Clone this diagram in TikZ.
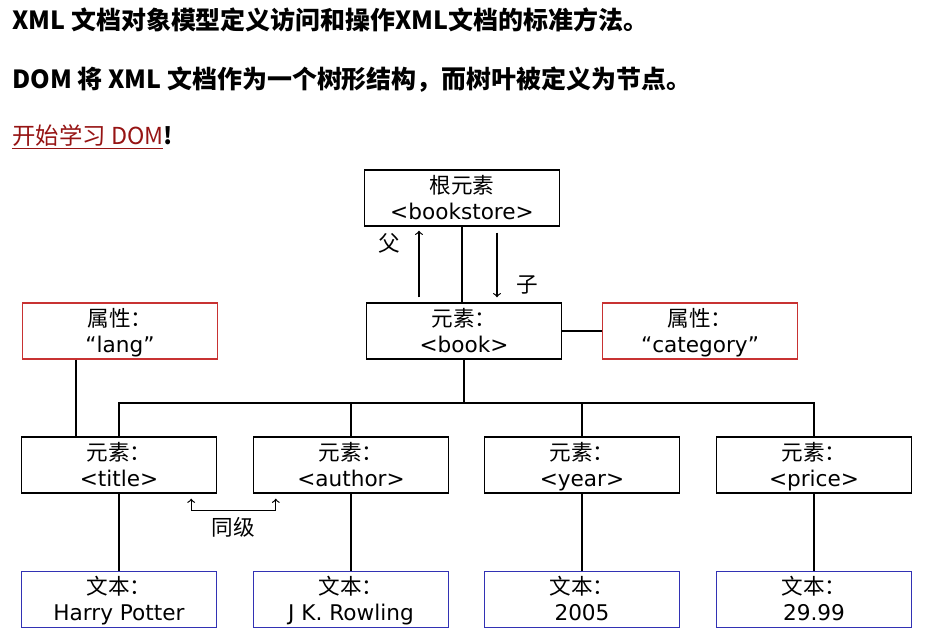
\documentclass[tikz,border=0pt]{standalone}
\usepackage{fontspec}
\setmainfont{DejaVu Sans}
\newfontfamily\cjk{Noto Sans CJK SC}
\usetikzlibrary{positioning}
\definecolor{attrRed}{RGB}{200,50,50}
\definecolor{textBlue}{RGB}{50,50,180}
\definecolor{linkRed}{RGB}{150,20,20}
\newcommand{\topStrut}{\rule{0pt}{0.89\baselineskip}}
\newcommand{\botStrut}{\rule[-0.25\baselineskip]{0pt}{0.25\baselineskip}}

\begin{document}
\begin{tikzpicture}[
    x=0.02cm, y=-0.02cm, every node/.style={font=\fontsize{12.3}{14.8}\selectfont},
    elemNode/.style={rectangle, draw, line width=0.8pt, minimum width=3.9cm, minimum height=1.12cm, align=center, inner xsep=1pt, inner ysep=0pt},
    attrNode/.style={elemNode, draw=attrRed},
    textNode/.style={elemNode, draw=textBlue},
    hdrText/.style={anchor=west, inner sep=0pt, font=\cjk\bfseries\fontsize{14.2}{16}\selectfont},
    edge/.style={draw, line width=0.8pt},
    arrowLine/.style={->, line width=0.7pt}
]
    \useasboundingbox (0,0) rectangle (939,644);

    % header lines
    \node[hdrText] (hdrA) at (12,20) {XML 文档对象模型定义访问和操作XML文档的标准方法。};
    \node[hdrText] (hdrB) at (12,80) {DOM 将 XML 文档作为一个树形结构，而树叶被定义为节点。};
    \node[hdrText, font=\cjk\fontsize{13.3}{15}\selectfont] (hdrC) at (12,137) {\textcolor{linkRed}{\underline{开始学习 DOM}}\textbf{!}};

    % tree
    \node[elemNode] (root) at (462,198) {{\cjk\topStrut 根元素}\\<bookstore>\botStrut};
    \node[elemNode] (book) at (464,331) {{\cjk\topStrut 元素：}\\<book>\botStrut};
    \node[attrNode] (lang) at (120,331) {{\cjk\topStrut 属性：}\\“lang”\botStrut};
    \node[attrNode] (category) at (700,331) {{\cjk\topStrut 属性：}\\“category”\botStrut};

    \node[elemNode] (title) at (119,465) {{\cjk\topStrut 元素：}\\<title>\botStrut};
    \node[elemNode] (author) at (351,465) {{\cjk\topStrut 元素：}\\<author>\botStrut};
    \node[elemNode] (year) at (582,465) {{\cjk\topStrut 元素：}\\<year>\botStrut};
    \node[elemNode] (price) at (814,465) {{\cjk\topStrut 元素：}\\<price>\botStrut};

    \node[textNode, below=1.54cm of title] (tHarry) {{\cjk\topStrut 文本：}\\Harry Potter\botStrut};
    \node[textNode, below=1.54cm of author] (tRowling) {{\cjk\topStrut 文本：}\\J K. Rowling\botStrut};
    \node[textNode, below=1.54cm of year] (tYear) {{\cjk\topStrut 文本：}\\2005\botStrut};
    \node[textNode, below=1.54cm of price] (tPrice) {{\cjk\topStrut 文本：}\\29.99\botStrut};

    % links
    \draw[edge] (root.south) -- (root.south |- book.north);
    \draw[edge] (book.east) -- (category.west);
    \coordinate (langDrop) at ([xshift=-0.88cm]lang.south);
    \draw[edge] (langDrop) -- (langDrop |- title.north);

    \coordinate (bus) at (0,403);
    \draw[edge] (book.south) -- (book.south |- bus);
    \draw[edge] (title.north) -- (title.north |- bus) -- (price.north |- bus) -- (price.north);
    \draw[edge] (author.north) -- (author.north |- bus);
    \draw[edge] (year.north) -- (year.north |- bus);

    \draw[edge] (title.south) -- (tHarry.north);
    \draw[edge] (author.south) -- (tRowling.north);
    \draw[edge] (year.south) -- (tYear.north);
    \draw[edge] (price.south) -- (tPrice.north);

    % parent / child
    \coordinate (upB) at ([xshift=-0.9cm]book.north);
    \coordinate (downB) at ([xshift=0.66cm]book.north);
    \draw[arrowLine, shorten <=0.1cm, shorten >=0.08cm] (upB) -- (upB |- root.south)
        node[pos=0.78, left=0.25cm] {\cjk 父};
    \draw[arrowLine, shorten <=0.12cm, shorten >=0.1cm] (downB |- root.south) -- (downB)
        node[pos=0.77, right=0.26cm] {\cjk 子};

    % siblings
    \coordinate (sibL) at ([xshift=-0.52cm,yshift=-0.1cm]title.south east);
    \coordinate (sibR) at ([xshift=0.46cm,yshift=-0.1cm]author.south west);
    \draw[arrowLine, <->] (sibL) -- ++(0,-0.24cm) -| node[pos=0.25, below] {\cjk 同级} (sibR);
\end{tikzpicture}
\end{document}
